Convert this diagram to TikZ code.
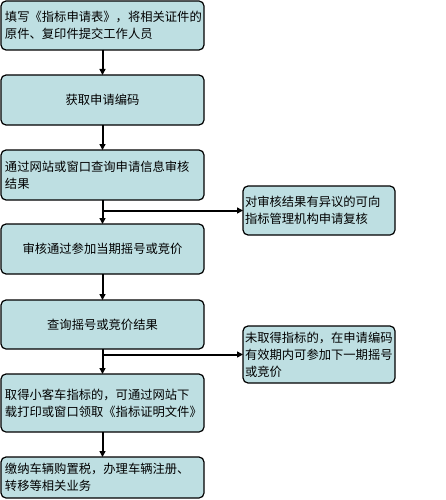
\documentclass[tikz,border=0pt]{standalone}
\usepackage{fontspec}
\setmainfont{Noto Sans CJK SC}
\usetikzlibrary{positioning, arrows.meta}
\definecolor{boxfill}{RGB}{190,223,226}

\begin{document}
\begin{tikzpicture}[
    x=1pt, y=1pt,
    line width=1.2pt,
    box/.style={draw, fill=boxfill, rounded corners=5pt, text width=195pt, inner xsep=4pt, inner ysep=2pt, outer sep=0pt, align=left, font=\fontsize{12.3pt}{17pt}\selectfont},
    sidebox/.style={box, text width=148pt, inner xsep=2pt},
    arrow/.style={-{Triangle[length=6pt, width=6pt]}, line width=2pt}
]{
    \useasboundingbox (0,0) rectangle (445,-500);

    \node[box, anchor=north west, minimum height=49pt](form) at (1,-1){填写《指标申请表》，将相关证件的\\原件、复印件提交工作人员};
    \node[box, align=center, minimum height=50pt, below=25pt of form](code){获取申请编码};
    \node[box, minimum height=50pt, below=25pt of code](query){通过网站或窗口查询申请信息审核\\结果};
    \node[box, align=center, minimum height=50pt, below=24pt of query](lottery){审核通过参加当期摇号或竞价};
    \node[box, align=center, minimum height=49pt, below=26pt of lottery](result){查询摇号或竞价结果};
    \node[box, minimum height=58pt, below=25pt of result](certificate){取得小客车指标的，可通过网站下\\载打印或窗口领取《指标证明文件》};
    \node[box, minimum height=41pt, below=25pt of certificate](register){缴纳车辆购置税，办理车辆注册、\\转移等相关业务};

    % Side boxes
    \node[sidebox, anchor=north west, minimum height=49pt](recheck) at (243,-186){对审核结果有异议的可向\\指标管理机构申请复核};
    \node[sidebox, anchor=north west, minimum height=57pt](next_round) at (243,-326){未取得指标的，在申请编码\\有效期内可参加下一期摇号\\或竞价};

    \draw[arrow](form) -- (code);
    \draw[arrow](code) -- (query);
    \draw[arrow](query) -- (lottery);
    \draw[arrow](query.south |- recheck) -- (recheck);
    \draw[arrow](lottery) -- (result);
    \draw[arrow](result) -- (certificate);
    \draw[arrow](result.south |- next_round) -- (next_round);
    \draw[arrow](certificate) -- (register);
}
\end{tikzpicture}
\end{document}
